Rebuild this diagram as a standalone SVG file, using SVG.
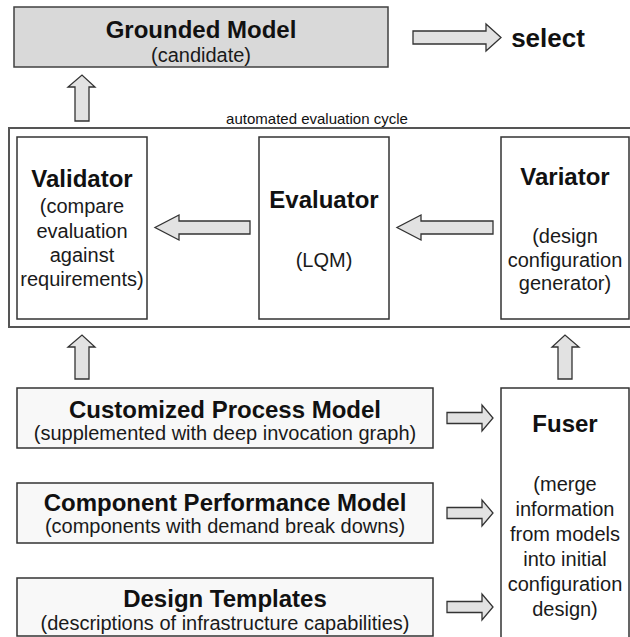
<svg xmlns="http://www.w3.org/2000/svg" width="630" height="637" viewBox="0 0 630 637">
  <style>
    text { font-family: "Liberation Sans", Arial, sans-serif; fill: #111; text-anchor: middle; }
    .title { font-size: 24px; font-weight: bold; }
    .body { font-size: 20px; fill: #1a1a1a; }
    .small { font-size: 15px; }
    .box { fill: #ffffff; stroke: #333333; stroke-width: 1.5; }
    .grey { fill: #d9d9d9; stroke: #404040; stroke-width: 1.5; }
    .soft { fill: #f8f8f8; stroke: #333333; stroke-width: 1.5; }
    .frame { fill: none; stroke: #555555; stroke-width: 2; }
    .arrow { fill: #e2e2e2; stroke: #333333; stroke-width: 1.3; stroke-linejoin: miter; }
  </style>

  <rect width="630" height="637" fill="#ffffff"/>

  <!-- evaluation cycle frame -->
  <g id="cycle">
    <rect class="frame" x="9" y="128" width="640" height="199"/>
    <text class="small" x="317" y="124">automated evaluation cycle</text>
  </g>

  <g id="grounded-model">
    <rect class="grey" x="14" y="7" width="374" height="60"/>
    <text class="title" x="201" y="38">Grounded Model</text>
    <text class="body" x="201" y="62">(candidate)</text>
  </g>

  <g id="select">
    <text class="title" x="548" y="47" style="font-size:26px">select</text>
  </g>

  <g id="validator">
    <rect class="box" x="17" y="137" width="130" height="182"/>
    <text class="title" x="82" y="187">Validator</text>
    <text class="body" x="82" y="213">(compare</text>
    <text class="body" x="82" y="238">evaluation</text>
    <text class="body" x="82" y="262">against</text>
    <text class="body" x="82" y="286">requirements)</text>
  </g>

  <g id="evaluator">
    <rect class="box" x="259" y="137" width="130" height="182"/>
    <text class="title" x="324" y="208">Evaluator</text>
    <text class="body" x="324" y="267">(LQM)</text>
  </g>

  <g id="variator">
    <rect class="box" x="501" y="137" width="128" height="182"/>
    <text class="title" x="565" y="185">Variator</text>
    <text class="body" x="565" y="243">(design</text>
    <text class="body" x="565" y="267">configuration</text>
    <text class="body" x="565" y="290">generator)</text>
  </g>

  <g id="customized-process-model">
    <rect class="soft" x="17" y="388" width="416" height="60"/>
    <text class="title" x="225" y="418">Customized Process Model</text>
    <text class="body" x="225" y="440">(supplemented with deep invocation graph)</text>
  </g>

  <g id="component-performance-model">
    <rect class="soft" x="17" y="483" width="416" height="60"/>
    <text class="title" x="225" y="511">Component Performance Model</text>
    <text class="body" x="225" y="533">(components with demand break downs)</text>
  </g>

  <g id="design-templates">
    <rect class="soft" x="17" y="578" width="416" height="58"/>
    <text class="title" x="225" y="607">Design Templates</text>
    <text class="body" x="225" y="630">(descriptions of infrastructure capabilities)</text>
  </g>

  <g id="fuser">
    <rect class="box" x="501" y="388" width="128" height="260"/>
    <text class="title" x="565" y="432">Fuser</text>
    <text class="body" x="565" y="491">(merge</text>
    <text class="body" x="565" y="516">information</text>
    <text class="body" x="565" y="541">from models</text>
    <text class="body" x="565" y="566">into initial</text>
    <text class="body" x="565" y="591">configuration</text>
    <text class="body" x="565" y="616">design)</text>
  </g>

  <!-- block arrows -->
  <g id="connectors">
    <!-- grounded model to select -->
    <polygon class="arrow" points="413,31 486,31 486,24 501,37.5 486,51 486,44 413,44"/>
    <!-- validator up to grounded model -->
    <polygon class="arrow" points="75,121 75,87 68,87 82,75 95,87 89,87 89,121"/>
    <!-- evaluator to validator -->
    <polygon class="arrow" points="250,221 179,221 179,215 155,227.5 179,240 179,234 250,234"/>
    <!-- variator to evaluator -->
    <polygon class="arrow" points="493,221 421,221 421,215 397,227.5 421,240 421,234 493,234"/>
    <!-- process model up into validator -->
    <polygon class="arrow" points="75,379 75,347 68,347 82,335 95,347 89,347 89,379"/>
    <!-- fuser up into variator -->
    <polygon class="arrow" points="558,379 558,347 552,347 565,335 579,347 572,347 572,379"/>
    <!-- models into fuser -->
    <polygon class="arrow" points="447,412.5 482,412.5 482,405 493,418 482,431 482,423.5 447,423.5"/>
    <polygon class="arrow" points="447,507.5 482,507.5 482,500 493,513 482,526 482,518.5 447,518.5"/>
    <polygon class="arrow" points="447,601.5 482,601.5 482,594 493,607 482,620 482,612.5 447,612.5"/>
  </g>
</svg>
